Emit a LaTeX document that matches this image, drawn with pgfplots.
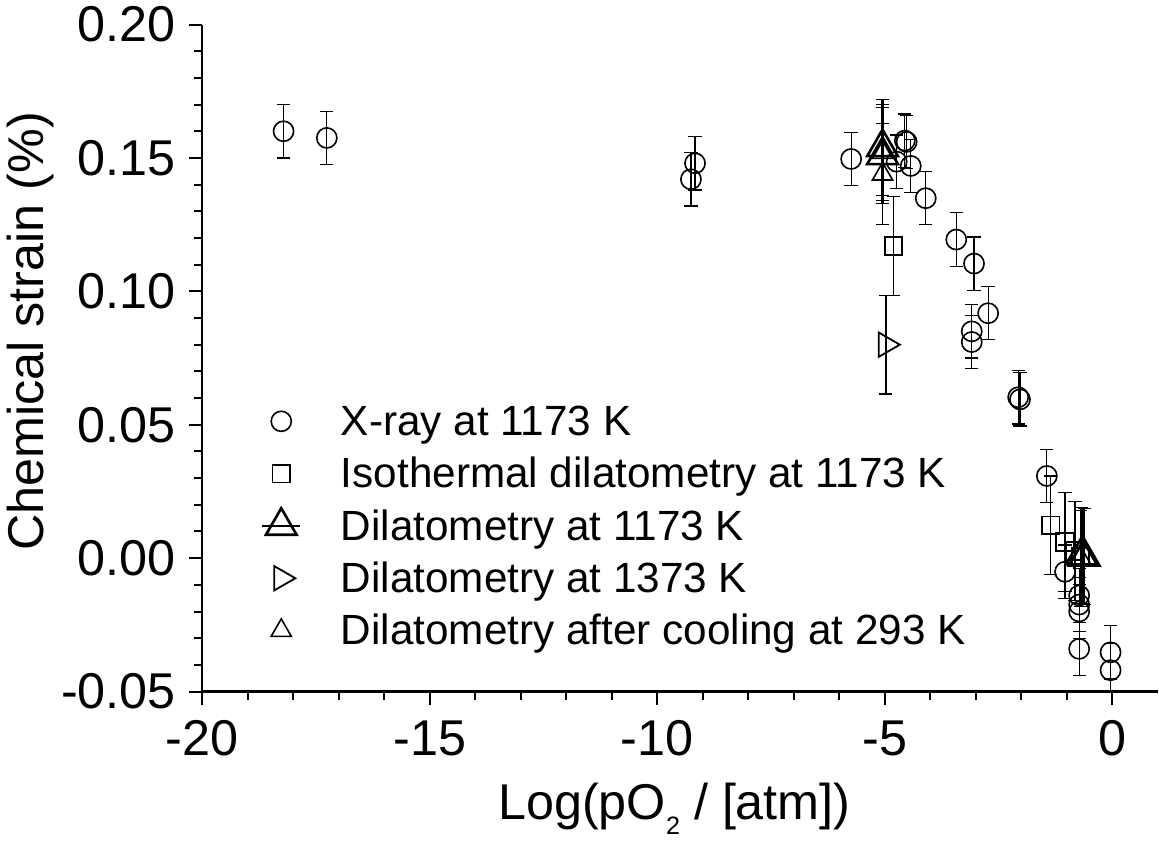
\documentclass[border=0pt]{standalone}
\usepackage{fontspec}
\setmainfont{Liberation Sans}
\usepackage{pgfplots}
\pgfplotsset{compat=1.18}
\pgfplotsset{
  mark legend/.style={legend image code/.code={%
    \path (-0.05cm,0cm) (0.65cm,0cm);
    \draw[##1] plot coordinates {(0.3cm,0cm)};}},
  tri legend/.style={legend image code/.code={%
    \path (-0.05cm,0cm) (0.65cm,0cm);
    \draw[##1] plot coordinates {(0.3cm,0cm)};
    \draw[line width=1.1pt] (-0.03cm,0cm) -- (0.63cm,0cm);}},
}
\begin{document}
\begin{tikzpicture}
\begin{axis}[
  scale only axis,
  width=475pt, height=331.5pt,
  xmin=-20, xmax=1, ymin=-0.05, ymax=0.20,
  axis lines=left,
  axis line style={-, line width=1.1pt},
  xtick={-20,-15,-10,-5,0},
  ytick={-0.05,0,0.05,0.10,0.15,0.20},
  minor x tick num=4, minor y tick num=4,
  tick align=outside,
  major tick length=6.5pt, minor tick length=4pt,
  every tick/.style={black, line width=1pt},
  /pgf/number format/assume math mode=true,
  ticklabel style={font=\fontsize{25}{30}\selectfont},
  yticklabel style={/pgf/number format/fixed, /pgf/number format/fixed zerofill, /pgf/number format/precision=2, xshift=-3pt},
  xticklabel style={/pgf/number format/fixed, yshift=-4.5pt},
  scaled y ticks=false,
  xlabel={Log(pO\raisebox{-7.5pt}{\fontsize{12.5}{13}\selectfont 2} / [atm])},
  ylabel={Chemical strain (\%)},
  label style={font=\fontsize{25}{30}\selectfont},
  xlabel style={at={(axis description cs:0.4942,-0.1916)}, anchor=base},
  ylabel style={at={(axis description cs:-0.1663,0.54)}, anchor=base, rotate=0},
  legend style={at={(axis description cs:0.061,0.448)}, anchor=north west, draw=none, fill=none,
    inner sep=0pt, row sep=-2pt, column sep=19.5pt,
    nodes={font=\fontsize{21}{24}\selectfont, inner xsep=0pt, inner ysep=0pt, text height=21pt, text depth=7pt},
    cells={anchor=west}},
  legend cell align=left,
  mark legend,
  error bars/error mark options={rotate=90, mark size=3.3pt, line width=0.6pt},
]
% X-ray at 1173 K
\addplot[only marks, mark=o, mark size=5pt, mark options={line width=0.8pt, fill=white},
  error bars/.cd, y dir=both, y explicit, error bar style={line width=0.6pt}]
  table[x=x, y=y, y error=e] {
x y e
-18.21 0.1600 0.010
-17.26 0.1575 0.010
-9.17 0.1480 0.010
-9.26 0.1420 0.010
-5.74 0.1496 0.010
-4.56 0.1565 0.010
-4.52 0.1560 0.010
-4.74 0.1486 0.010
-4.43 0.1470 0.010
-4.10 0.1349 0.010
-3.43 0.1194 0.010
-3.04 0.1104 0.010
-2.73 0.0918 0.010
-3.09 0.0850 0.010
-3.09 0.0810 0.010
-2.07 0.0603 0.010
-2.03 0.0595 0.010
-1.44 0.0308 0.010
-1.04 -0.0051 0.010
-0.73 -0.0140 0.010
-0.73 -0.0174 0.010
-0.73 -0.0200 0.010
-0.73 -0.0340 0.010
-0.04 -0.0353 0.010
-0.04 -0.0420 0.010
};
\addlegendentry{X-ray at 1173 K}
% Isothermal dilatometry
\addplot[only marks, mark=square, mark size=4.4pt, mark options={line width=0.9pt, fill=white},
  error bars/.cd, y dir=both, y explicit, error bar style={line width=0.6pt}]
  table[x=x, y=y, y error=e] {
x y e
-4.81 0.1170 0.0185
-1.355 0.0123 0.0185
-1.04 0.0060 0.0185
-0.82 0.0026 0.0185
-0.70 0.0005 0.0185
};
\addlegendentry{Isothermal dilatometry at 1173 K}
% Dilatometry at 1173 K
\addplot[only marks, mark=triangle, mark size=8.8pt, mark options={line width=1.3pt}, tri legend,
  error bars/.cd, y dir=both, y explicit, error bar style={line width=1.1pt}]
  table[x=x, y=y, y error=e] {
x y e
-5.05 0.1540 0.018
-5.05 0.1510 0.018
-0.68 0.0010 0.018
-0.62 0.0005 0.018
};
\addlegendentry{Dilatometry at 1173 K}
% Dilatometry at 1373 K
\addplot[only marks, mark=triangle, mark size=7pt, mark options={rotate=-90, line width=0.9pt, fill=white},
  error bars/.cd, y dir=both, y explicit, error bar style={line width=1.1pt}]
  table[x=x, y=y, y error=e] {
x y e
-4.98 0.0800 0.0185
};
\addlegendentry{Dilatometry at 1373 K}
% Dilatometry after cooling at 293 K
\addplot[only marks, mark=triangle, mark size=5.8pt, mark options={line width=0.8pt},
  error bars/.cd, y dir=both, y explicit, error bar style={line width=0.8pt}]
  table[x=x, y=y, y error=e] {
x y e
-5.05 0.1520 0.018
-5.05 0.1439 0.019
-0.70 0.0000 0.018
};
\addlegendentry{Dilatometry after cooling at 293 K}
\end{axis}
\end{tikzpicture}
\end{document}
